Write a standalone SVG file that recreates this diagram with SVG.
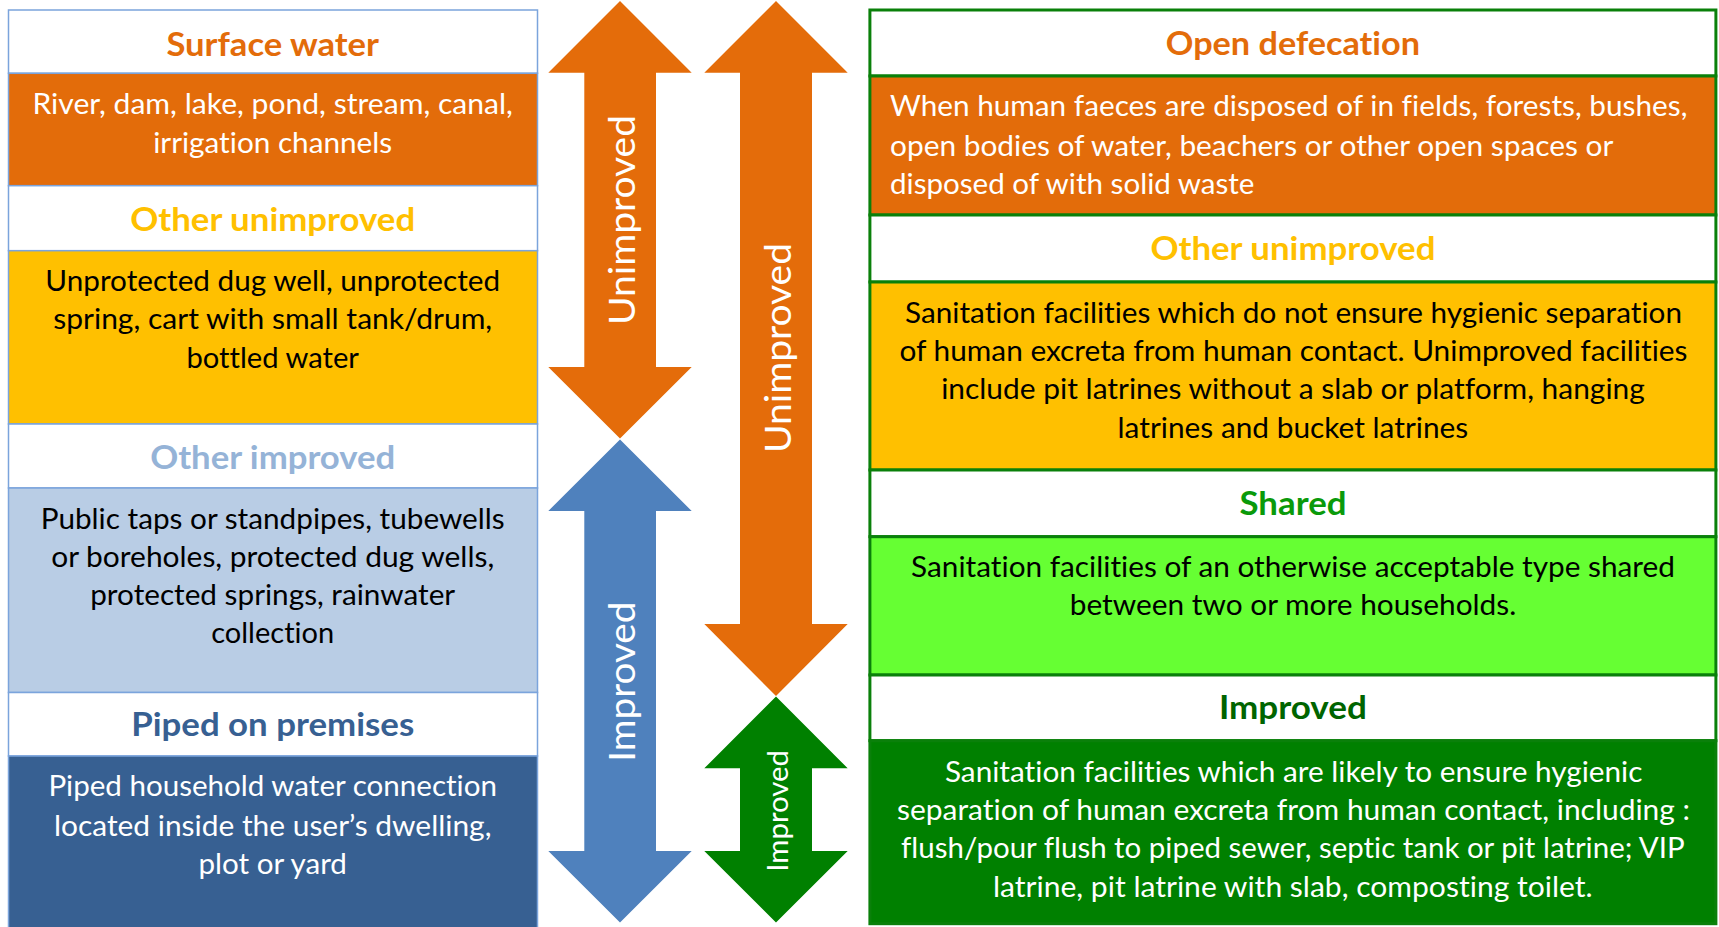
<svg xmlns="http://www.w3.org/2000/svg" width="1719" height="927" viewBox="0 0 1719 927">
  <style>
    text { font-family: Lato, "Open Sans", "Liberation Sans", sans-serif; font-variant-ligatures: none; }
    .title { font-size: 33px; font-weight: bold; text-anchor: middle; }
    .body { font-size: 29px; text-anchor: middle; }
    .left { text-anchor: start; }
    .white { fill: #ffffff; }
    .black { fill: #000000; }
    .lbox { stroke: #7ba4dc; stroke-width: 1.5; }
    .rbox { stroke: #0a800a; stroke-width: 3; }
    .hdr { fill: #ffffff; }
    .arrow-label { font-size: 37.5px; fill: #ffffff; text-anchor: middle; }
  </style>

  <rect width="1719" height="927" fill="#ffffff"/>

  <!-- Water sources ladder (left column) -->
  <g id="water-surface">
    <rect class="lbox hdr" x="8.5" y="10" width="529" height="63.3"/>
    <rect class="lbox" x="8.5" y="73.3" width="529" height="112.4" fill="#e36c0a"/>
    <text class="title" x="272.7" y="56" fill="#e36c0a" textLength="212.6" lengthAdjust="spacingAndGlyphs">Surface water</text>
    <text class="body white" x="272.7" y="114" textLength="480.5" lengthAdjust="spacingAndGlyphs">River, dam, lake, pond, stream, canal,</text>
    <text class="body white" x="272.7" y="152.7" textLength="239" lengthAdjust="spacingAndGlyphs">irrigation channels</text>
  </g>

  <g id="water-other-unimproved">
    <rect class="lbox hdr" x="8.5" y="185.7" width="529" height="65"/>
    <rect class="lbox" x="8.5" y="250.7" width="529" height="173.3" fill="#ffc000"/>
    <text class="title" x="272.7" y="231" fill="#ffc000" textLength="285" lengthAdjust="spacingAndGlyphs">Other unimproved</text>
    <text class="body black" x="272.7" y="291" textLength="454.7" lengthAdjust="spacingAndGlyphs">Unprotected dug well, unprotected</text>
    <text class="body black" x="272.7" y="329.3" textLength="439" lengthAdjust="spacingAndGlyphs">spring, cart with small tank/drum,</text>
    <text class="body black" x="272.7" y="367.7" textLength="172.5" lengthAdjust="spacingAndGlyphs">bottled water</text>
  </g>

  <g id="water-other-improved">
    <rect class="lbox hdr" x="8.5" y="424" width="529" height="64"/>
    <rect class="lbox" x="8.5" y="488" width="529" height="204.5" fill="#b9cde5"/>
    <text class="title" x="272.7" y="469" fill="#95b3d7" textLength="245" lengthAdjust="spacingAndGlyphs">Other improved</text>
    <text class="body black" x="272.7" y="529" textLength="464" lengthAdjust="spacingAndGlyphs">Public taps or standpipes, tubewells</text>
    <text class="body black" x="272.7" y="567" textLength="443" lengthAdjust="spacingAndGlyphs">or boreholes, protected dug wells,</text>
    <text class="body black" x="272.7" y="604.5" textLength="365" lengthAdjust="spacingAndGlyphs">protected springs, rainwater</text>
    <text class="body black" x="272.7" y="643" textLength="123" lengthAdjust="spacingAndGlyphs">collection</text>
  </g>

  <g id="water-piped">
    <rect class="lbox hdr" x="8.5" y="692.5" width="529" height="63.5"/>
    <rect class="lbox" x="8.5" y="756" width="529" height="173" fill="#376092"/>
    <text class="title" x="272.7" y="736" fill="#376092" textLength="283" lengthAdjust="spacingAndGlyphs">Piped on premises</text>
    <text class="body white" x="272.7" y="796" textLength="448.5" lengthAdjust="spacingAndGlyphs">Piped household water connection</text>
    <text class="body white" x="272.7" y="836" textLength="437.5" lengthAdjust="spacingAndGlyphs">located inside the user’s dwelling,</text>
    <text class="body white" x="272.7" y="874" textLength="148.5" lengthAdjust="spacingAndGlyphs">plot or yard</text>
  </g>

  <!-- Sanitation ladder (right column) -->
  <g id="sanitation-open-defecation">
    <rect class="rbox hdr" x="869.9" y="10" width="846" height="66"/>
    <rect class="rbox" x="869.9" y="76" width="846" height="139" fill="#e36c0a"/>
    <text class="title" x="1292.9" y="55" fill="#e36c0a" textLength="254.2" lengthAdjust="spacingAndGlyphs">Open defecation</text>
    <text class="body white left" x="890" y="116" textLength="797.4" lengthAdjust="spacingAndGlyphs">When human faeces are disposed of in fields, forests, bushes,</text>
    <text class="body white left" x="890" y="156" textLength="723.4" lengthAdjust="spacingAndGlyphs">open bodies of water, beachers or other open spaces or</text>
    <text class="body white left" x="890" y="193.7" textLength="364.5" lengthAdjust="spacingAndGlyphs">disposed of with solid waste</text>
  </g>

  <g id="sanitation-other-unimproved">
    <rect class="rbox hdr" x="869.9" y="215" width="846" height="67"/>
    <rect class="rbox" x="869.9" y="282" width="846" height="188" fill="#ffc000"/>
    <text class="title" x="1292.9" y="259.5" fill="#ffc000" textLength="285" lengthAdjust="spacingAndGlyphs">Other unimproved</text>
    <text class="body black" x="1293.5" y="322.7" textLength="777" lengthAdjust="spacingAndGlyphs">Sanitation facilities which do not ensure hygienic separation</text>
    <text class="body black" x="1293.5" y="361" textLength="788" lengthAdjust="spacingAndGlyphs">of human excreta from human contact. Unimproved facilities</text>
    <text class="body black" x="1293" y="399.3" textLength="703.7" lengthAdjust="spacingAndGlyphs">include pit latrines without a slab or platform, hanging</text>
    <text class="body black" x="1292.9" y="437.7" textLength="350.7" lengthAdjust="spacingAndGlyphs">latrines and bucket latrines</text>
  </g>

  <g id="sanitation-shared">
    <rect class="rbox hdr" x="869.9" y="470" width="846" height="66.7"/>
    <rect class="rbox" x="869.9" y="536.7" width="846" height="138.3" fill="#66ff33"/>
    <text class="title" x="1293" y="514.5" fill="#0a9a0a" textLength="107" lengthAdjust="spacingAndGlyphs">Shared</text>
    <text class="body black" x="1293" y="576.5" textLength="763.8" lengthAdjust="spacingAndGlyphs">Sanitation facilities of an otherwise acceptable type shared</text>
    <text class="body black" x="1293" y="614.5" textLength="446.5" lengthAdjust="spacingAndGlyphs">between two or more households.</text>
  </g>

  <g id="sanitation-improved">
    <rect class="rbox hdr" x="869.9" y="675" width="846" height="65.7"/>
    <rect class="rbox" x="869.9" y="740.7" width="846" height="183" fill="#008000"/>
    <text class="title" x="1292.9" y="719" fill="#006400" textLength="148" lengthAdjust="spacingAndGlyphs">Improved</text>
    <text class="body white" x="1293.7" y="781.5" textLength="697.5" lengthAdjust="spacingAndGlyphs">Sanitation facilities which are likely to ensure hygienic</text>
    <text class="body white" x="1293.5" y="819.5" textLength="793" lengthAdjust="spacingAndGlyphs">separation of human excreta from human contact, including :</text>
    <text class="body white" x="1292.9" y="858" textLength="783.7" lengthAdjust="spacingAndGlyphs">flush/pour flush to piped sewer, septic tank or pit latrine; VIP</text>
    <text class="body white" x="1292.8" y="896.5" textLength="599.6" lengthAdjust="spacingAndGlyphs">latrine, pit latrine with slab, composting toilet.</text>
  </g>

  <!-- Double-headed scale arrows between the two ladders -->
  <g id="arrows">
    <g id="water-unimproved-arrow">
      <polygon fill="#e46c0a" points="620,1 691.7,72.7 656,72.7 656,367 691.7,367 620,438.5 548.3,367 584.3,367 584.3,72.7 548.3,72.7"/>
      <text class="arrow-label" transform="translate(635,220) rotate(-90)" textLength="210" lengthAdjust="spacingAndGlyphs">Unimproved</text>
    </g>
    <g id="water-improved-arrow">
      <polygon fill="#4f81bd" points="620,439.5 691.7,511 656,511 656,851 691.7,851 620,922.5 548.3,851 584.3,851 584.3,511 548.3,511"/>
      <text class="arrow-label" transform="translate(635,681.7) rotate(-90)" textLength="160" lengthAdjust="spacingAndGlyphs">Improved</text>
    </g>
    <g id="sanitation-unimproved-arrow">
      <polygon fill="#e46c0a" points="776,1 847.7,72.7 812,72.7 812,624 847.7,624 776,696 704.3,624 740,624 740,72.7 704.3,72.7"/>
      <text class="arrow-label" transform="translate(790.5,348) rotate(-90)" textLength="210" lengthAdjust="spacingAndGlyphs">Unimproved</text>
    </g>
    <g id="sanitation-improved-arrow">
      <polygon fill="#008000" points="776,696.5 847.7,768.3 812,768.3 812,851 847.7,851 776,922.5 704.3,851 740,851 740,768.3 704.3,768.3"/>
      <text class="arrow-label" style="font-size:28px" transform="translate(787.5,810.8) rotate(-90)" textLength="121.7" lengthAdjust="spacingAndGlyphs">Improved</text>
    </g>
  </g>
</svg>
